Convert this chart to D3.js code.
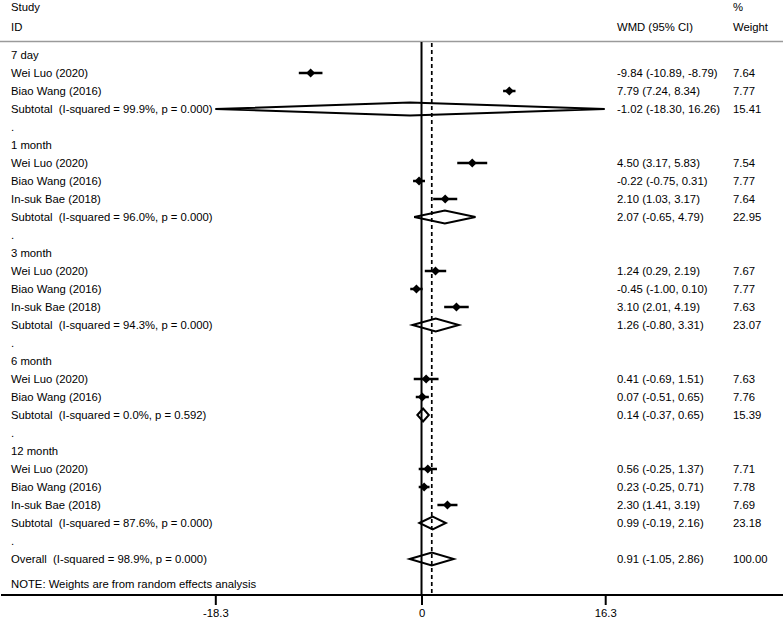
<!DOCTYPE html>
<html>
<head>
<meta charset="utf-8">
<script src="https://cdn.jsdelivr.net/npm/d3@7"></script>
<style>
  html, body { margin: 0; padding: 0; background: #fff; }
  svg text { font-family: "Liberation Sans", Arial, sans-serif; font-size: 11.3px; fill: #000; white-space: pre; }
</style>
</head>
<body>
<svg id="chart" width="784" height="622"></svg>
<script>
// ---- data ----
const groups = ["7 day", "1 month", "3 month", "6 month", "12 month"];
const studyGroup = [0, 0, 1, 1, 1, 2, 2, 2, 3, 3, 4, 4, 4];
const studyNames = ["Wei Luo (2020)", "Biao Wang (2016)",
  "Wei Luo (2020)", "Biao Wang (2016)", "In-suk Bae (2018)",
  "Wei Luo (2020)", "Biao Wang (2016)", "In-suk Bae (2018)",
  "Wei Luo (2020)", "Biao Wang (2016)",
  "Wei Luo (2020)", "Biao Wang (2016)", "In-suk Bae (2018)"];
const studyWMD = [-9.84, 7.79, 4.50, -0.22, 2.10, 1.24, -0.45, 3.10, 0.41, 0.07, 0.56, 0.23, 2.30];
const studyLow = [-10.89, 7.24, 3.17, -0.75, 1.03, 0.29, -1.00, 2.01, -0.69, -0.51, -0.25, -0.25, 1.41];
const studyHigh = [-8.79, 8.34, 5.83, 0.31, 3.17, 2.19, 0.10, 4.19, 1.51, 0.65, 1.37, 0.71, 3.19];
const studyWeight = [7.64, 7.77, 7.54, 7.77, 7.64, 7.67, 7.77, 7.63, 7.63, 7.76, 7.71, 7.78, 7.69];
const subI2 = ["99.9%", "96.0%", "94.3%", "0.0%", "87.6%"];
const subP = ["0.000", "0.000", "0.000", "0.592", "0.000"];
const subWMD = [-1.02, 2.07, 1.26, 0.14, 0.99];
const subLow = [-18.30, -0.65, -0.80, -0.37, -0.19];
const subHigh = [16.26, 4.79, 3.31, 0.65, 2.16];
const subWeight = [15.41, 22.95, 23.07, 15.39, 23.18];
const overallStats = [0.91, -1.05, 2.86, 100.00];
const overallI2 = "98.9%";
const overallP = "0.000";
const tickValues = [-18.3, 0, 16.3];
const tickLabels = ["-18.3", "0", "16.3"];

// ---- layout ----
const svg = d3.select("#chart");
const x = d3.scaleLinear().domain([-18.3, 16.3]).range([215.3, 605.2]);
const rowStart = 55, rowStep = 18;
const colText = 11, colCI = 617, colW = 733;
const axisY = 595;
const f2 = v => v.toFixed(2);

// build rows
const rows = [];
groups.forEach((g, gi) => {
  rows.push({type: "head", label: g});
  studyNames.forEach((n, i) => {
    if (studyGroup[i] === gi) rows.push({type: "study", label: n, wmd: studyWMD[i], lo: studyLow[i], hi: studyHigh[i], w: studyWeight[i]});
  });
  rows.push({type: "sub", label: "Subtotal  (I-squared = " + subI2[gi] + ", p = " + subP[gi] + ")", wmd: subWMD[gi], lo: subLow[gi], hi: subHigh[gi], w: subWeight[gi]});
  rows.push({type: "dot", label: "."});
});
rows.push({type: "sub", label: "Overall  (I-squared = " + overallI2 + ", p = " + overallP + ")", wmd: overallStats[0], lo: overallStats[1], hi: overallStats[2], w: overallStats[3]});
rows.forEach((r, i) => r.y = rowStart + i * rowStep);

// header
svg.append("text").attr("x", colText).attr("y", 11).text("Study");
svg.append("text").attr("x", colText).attr("y", 31).text("ID");
svg.append("text").attr("x", colW).attr("y", 11).text("%");
svg.append("text").attr("x", colCI).attr("y", 31).text("WMD (95% CI)");
svg.append("text").attr("x", colW).attr("y", 31).text("Weight");
svg.append("line").attr("x1", 0).attr("x2", 783).attr("y1", 41.5).attr("y2", 41.5)
  .attr("stroke", "#9a9a9a").attr("stroke-width", 1.5);

// row labels
svg.selectAll("text.lbl").data(rows).enter().append("text")
  .attr("class", "lbl").attr("x", colText).attr("y", d => d.y + 4).text(d => d.label);

const est = rows.filter(d => d.type === "study" || d.type === "sub");
svg.selectAll("text.ci").data(est).enter().append("text")
  .attr("x", colCI).attr("y", d => d.y + 4)
  .text(d => f2(d.wmd) + " (" + f2(d.lo) + ", " + f2(d.hi) + ")");
svg.selectAll("text.wt").data(est).enter().append("text")
  .attr("x", colW).attr("y", d => d.y + 4).text(d => f2(d.w));

// study CIs and markers
const st = rows.filter(d => d.type === "study");
svg.selectAll("line.ci").data(st).enter().append("line")
  .attr("x1", d => x(d.lo)).attr("x2", d => x(d.hi)).attr("y1", d => d.y).attr("y2", d => d.y)
  .attr("stroke", "#000").attr("stroke-width", 2.5);
svg.selectAll("path.pt").data(st).enter().append("path")
  .attr("d", d => `M${x(d.wmd) - 4.5},${d.y}L${x(d.wmd)},${d.y - 4.5}L${x(d.wmd) + 4.5},${d.y}L${x(d.wmd)},${d.y + 4.5}Z`)
  .attr("fill", "#000");

// subtotal / overall diamonds
const sb = rows.filter(d => d.type === "sub");
svg.selectAll("path.dm").data(sb).enter().append("path")
  .attr("d", d => `M${x(d.lo)},${d.y}L${x(d.wmd)},${d.y - 6.5}L${x(d.hi)},${d.y}L${x(d.wmd)},${d.y + 6.5}Z`)
  .attr("fill", "#fff").attr("stroke", "#000").attr("stroke-width", 2).attr("stroke-linejoin", "miter");

// reference lines (on top of diamonds)
svg.append("line").attr("x1", x(0)).attr("x2", x(0)).attr("y1", 42).attr("y2", axisY)
  .attr("stroke", "#000").attr("stroke-width", 2);
svg.append("line").attr("x1", x(overallStats[0])).attr("x2", x(overallStats[0])).attr("y1", 43).attr("y2", axisY)
  .attr("stroke", "#000").attr("stroke-width", 1.7).attr("stroke-dasharray", "4,3");

// note
svg.append("text").attr("x", colText).attr("y", 588).text("NOTE: Weights are from random effects analysis");

// axis
svg.append("line").attr("x1", 1).attr("x2", 783).attr("y1", axisY).attr("y2", axisY)
  .attr("stroke", "#000").attr("stroke-width", 2);
const ax = svg.append("g").attr("transform", `translate(0,${axisY})`)
  .call(d3.axisBottom(x).tickValues(tickValues).tickSize(10).tickPadding(4)
    .tickFormat((d, i) => tickLabels[i]));
ax.select(".domain").remove();
ax.selectAll(".tick line").attr("stroke", "#000").attr("stroke-width", 2);
ax.selectAll(".tick text").style("font-family", "'Liberation Sans', Arial, sans-serif").style("font-size", "11.3px").attr("fill", "#000");
</script>
</body>
</html>
